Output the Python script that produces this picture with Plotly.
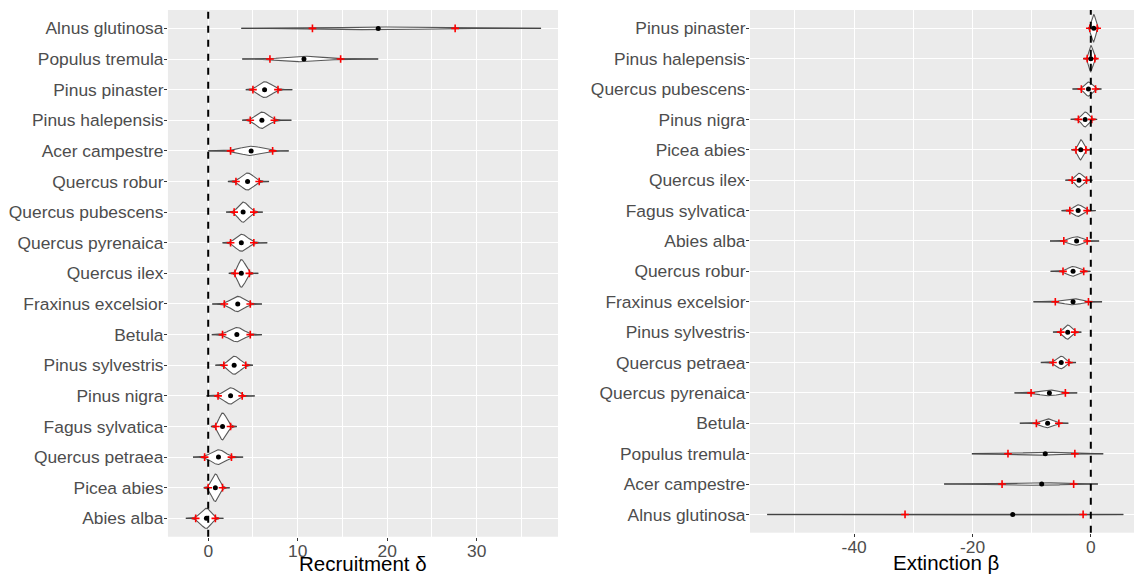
import numpy as np
import plotly.graph_objects as go

# ---------------- Data ----------------
# Recruitment delta panel, species top -> bottom
rec_species = ["Alnus glutinosa", "Populus tremula", "Pinus pinaster", "Pinus halepensis",
               "Acer campestre", "Quercus robur", "Quercus pubescens", "Quercus pyrenaica",
               "Quercus ilex", "Fraxinus excelsior", "Betula", "Pinus sylvestris",
               "Pinus nigra", "Fagus sylvatica", "Quercus petraea", "Picea abies", "Abies alba"]
rec_min = [3.7, 3.8, 4.2, 3.8, 0.0, 2.2, 2.0, 1.6, 2.3, 0.45, 0.4, 0.8, -0.2, 0.3, -1.7, -0.5, -2.5]
rec_qlo = [11.65, 6.9, 5.0, 4.7, 2.5, 3.1, 2.9, 2.5, 3.0, 1.8, 1.6, 1.75, 1.1, 0.86, -0.4, 0.0, -1.4]
rec_med = [19.0, 10.7, 6.3, 6.0, 4.8, 4.4, 3.9, 3.7, 3.7, 3.3, 3.2, 2.9, 2.5, 1.6, 1.15, 0.8, -0.2]
rec_qhi = [27.6, 14.8, 7.8, 7.4, 7.2, 5.7, 5.1, 5.1, 4.6, 4.7, 4.7, 4.2, 3.8, 2.5, 2.6, 1.6, 0.8]
rec_max = [37.2, 19.0, 9.4, 9.3, 9.0, 6.8, 6.1, 6.6, 5.6, 6.0, 6.0, 5.0, 5.2, 3.2, 3.9, 2.4, 1.7]

# Extinction beta panel, species top -> bottom
ext_species = ["Pinus pinaster", "Pinus halepensis", "Quercus pubescens", "Pinus nigra",
               "Picea abies", "Quercus ilex", "Fagus sylvatica", "Abies alba", "Quercus robur",
               "Fraxinus excelsior", "Pinus sylvestris", "Quercus petraea", "Quercus pyrenaica",
               "Betula", "Populus tremula", "Acer campestre", "Alnus glutinosa"]
ext_min = [-0.45, -1.3, -3.1, -3.4, -3.3, -4.3, -4.95, -6.9, -6.8, -9.7, -6.4, -8.45, -12.9, -12.0, -20.1, -24.8, -54.7]
ext_qlo = [-0.17, -0.6, -1.6, -2.1, -2.5, -3.15, -3.55, -4.56, -4.7, -6.0, -5.07, -6.4, -10.1, -9.2, -14.0, -15.0, -31.4]
ext_med = [0.5, 0.0, -0.4, -0.96, -1.7, -2.0, -2.14, -2.4, -3.0, -3.0, -3.9, -5.0, -7.0, -7.3, -7.7, -8.3, -13.2]
ext_qhi = [1.07, 0.68, 0.8, 0.17, -0.84, -0.73, -0.62, -0.62, -1.2, -0.4, -2.7, -3.7, -4.3, -5.4, -2.7, -2.9, -1.3]
ext_max = [1.35, 1.1, 1.8, 1.07, -0.17, 0.28, 0.84, 1.4, -0.06, 1.9, -1.6, -2.5, -2.3, -3.8, 2.1, 1.2, 5.5]

rec_ticks = [0, 10, 20, 30]
ext_ticks = [-40, -20, 0]
ext_ticklabels = ["-40", "-20", "0"]

FONT = "Liberation Sans, Arial, Helvetica, sans-serif"

fig = go.Figure()


def add_panel(species, lo, ql, med, qh, hi, xa, ya):
    n = len(species)
    ypos = [n - 1 - i for i in range(n)]
    sl = [(m - a) / 1.96 for m, a in zip(med, ql)]
    sr = [(b - m) / 1.96 for m, b in zip(med, qh)]
    peaks = [2.0 / (np.sqrt(2 * np.pi) * (a + b)) for a, b in zip(sl, sr)]
    k = 0.45 / max(peaks)
    # range lines
    for i in range(n):
        fig.add_trace(go.Scatter(x=[lo[i], hi[i]], y=[ypos[i], ypos[i]], mode="lines",
                                 line=dict(color="rgba(55,55,55,0.75)", width=1.4),
                                 xaxis=xa, yaxis=ya, hoverinfo="skip"))
    # violins
    for i in range(n):
        xs = np.linspace(lo[i], hi[i], 301)
        sig = np.where(xs < med[i], sl[i], sr[i])
        h = k * peaks[i] * np.exp(-0.5 * ((xs - med[i]) / sig) ** 2)
        px = np.concatenate([xs, xs[::-1]])
        py = np.concatenate([ypos[i] + h, (ypos[i] - h)[::-1]])
        fig.add_trace(go.Scatter(x=px, y=py, mode="lines", fill="toself",
                                 fillcolor="white",
                                 line=dict(color="rgba(60,60,60,0.85)", width=1.1),
                                 xaxis=xa, yaxis=ya, hoverinfo="skip"))
    # quantile marks
    fig.add_trace(go.Scatter(x=list(ql) + list(qh), y=ypos + ypos, mode="markers",
                             marker=dict(symbol="cross-thin", size=5.5,
                                         line=dict(color="red", width=1.6)),
                             xaxis=xa, yaxis=ya, hoverinfo="skip"))
    # medians
    fig.add_trace(go.Scatter(x=med, y=ypos, mode="markers",
                             marker=dict(color="black", size=5),
                             xaxis=xa, yaxis=ya, hoverinfo="skip"))
    return ypos


yp1 = add_panel(rec_species, rec_min, rec_qlo, rec_med, rec_qhi, rec_max, "x", "y")
yp2 = add_panel(ext_species, ext_min, ext_qlo, ext_med, ext_qhi, ext_max, "x2", "y2")

common_ax = dict(showgrid=True, gridcolor="white", gridwidth=1.1, zeroline=False,
                 showline=False, ticks="outside", ticklen=3, tickcolor="#333333",
                 tickfont=dict(family=FONT, size=17.4, color="#4D4D4D"), automargin=False)

fig.update_layout(
    width=1134, height=576,
    margin=dict(l=0, r=0, t=0, b=0),
    paper_bgcolor="white", plot_bgcolor="#EBEBEB",
    showlegend=False,
    font=dict(family=FONT),
    xaxis=dict(domain=[0.1481, 0.4921], range=[-4.5, 39.1], anchor="y",
               tickmode="array", tickvals=rec_ticks, ticklabelstandoff=-5,
               minor=dict(tickmode="array", tickvals=[-5, 5, 15, 25, 35], showgrid=True,
                          gridcolor="white", gridwidth=0.5, ticks=""),
               **common_ax),
    yaxis=dict(domain=[0.0682, 0.9826], range=[-0.6, 16.6], anchor="x",
               tickmode="array", tickvals=yp1, ticktext=rec_species,
               ticklabelstandoff=-3, **common_ax),
    xaxis2=dict(domain=[0.6614, 1.0], range=[-57.6, 7.3], anchor="y2",
                tickmode="array", tickvals=ext_ticks, ticktext=ext_ticklabels,
                ticklabelstandoff=-5,
                minor=dict(tickmode="array", tickvals=[-50, -30, -10], showgrid=True,
                           gridcolor="white", gridwidth=0.5, ticks=""),
                **common_ax),
    yaxis2=dict(domain=[0.0752, 0.9826], range=[-0.6, 16.6], anchor="x2",
                tickmode="array", tickvals=yp2, ticktext=ext_species,
                ticklabelstandoff=-3, **common_ax),
    shapes=[
        dict(type="line", xref="x", yref="y domain", x0=0, x1=0, y0=0, y1=1,
             line=dict(color="black", width=2, dash="7px,7px"), layer="above"),
        dict(type="line", xref="x2", yref="y2 domain", x0=0, x1=0, y0=0, y1=1,
             line=dict(color="black", width=2, dash="7px,7px"), layer="above"),
    ],
    annotations=[
        dict(text="Recruitment δ", x=363 / 1134, y=0, xref="paper", yref="paper",
             xanchor="center", yanchor="bottom", showarrow=False, borderpad=0,
             font=dict(family=FONT, size=20.5, color="black")),
        dict(text="Extinction β", x=946 / 1134, y=1 / 576, xref="paper", yref="paper",
             xanchor="center", yanchor="bottom", showarrow=False, borderpad=0,
             font=dict(family=FONT, size=20.5, color="black")),
    ],
)

fig.write_html("out.html")
